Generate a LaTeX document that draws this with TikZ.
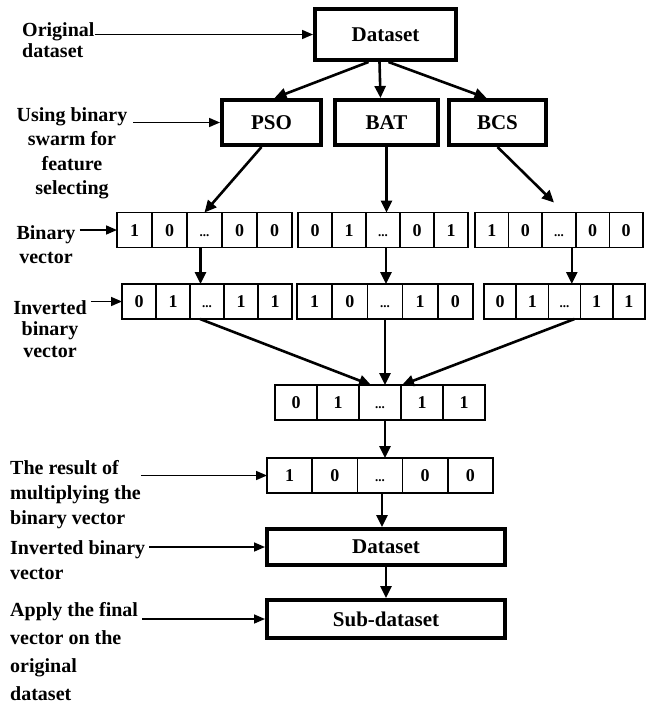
\documentclass[tikz,border=0pt]{standalone}
\usepackage{fontspec}
\setmainfont{Liberation Serif}
\usetikzlibrary{arrows.meta}

% one row of bits: name, left x, centre y, cell width, entries
\newcommand{\celldots}{{\fontsize{13}{13}\selectfont ...}}
\newcommand{\bitvec}[5]{%
  \foreach \v [count=\k] in {#5}
    \node[cell, minimum width=#4pt] (#1-\k) at ({#2+(\k-0.5)*#4},#3) {\v};}

\begin{document}
\begin{tikzpicture}[x=1pt,y=-1pt,
    bigbox/.style={draw,line width=4pt,inner sep=0pt,font=\fontsize{21}{24}\selectfont\bfseries},
    cell/.style={draw,line width=1.6pt,minimum height=35pt,inner sep=0pt,outer sep=0pt,
      text height=12.5pt,text depth=0pt,font=\fontsize{18}{20}\selectfont\bfseries},
    lbl/.style={inner sep=0pt,font=\fontsize{20}{#1}\selectfont\bfseries},
    lbl/.default=24.5pt,
    arr/.style={-{Triangle[length=12pt,width=11pt]},line width=2.6pt},
    tharr/.style={-{Triangle[length=11pt,width=9pt]},line width=1.6pt}]
        \useasboundingbox (0,0) rectangle (654,707);

        % boxes
        \node[bigbox,minimum width=141pt,minimum height=51pt] (ds) at (385.5,34.5) {Dataset};
        \node[bigbox,minimum width=99pt,minimum height=45pt] (pso) at (271.5,122.5) {PSO};
        \node[bigbox,minimum width=103pt,minimum height=45pt] (bat) at (386.5,122.5) {BAT};
        \node[bigbox,minimum width=97pt,minimum height=45pt] (bcs) at (497.5,122.5) {BCS};
        \node[bigbox,minimum width=238pt,minimum height=36pt] (ds2) at (386,547) {Dataset};
        \node[bigbox,minimum width=238pt,minimum height=38pt] (subds) at (386,619) {Sub-dataset};

        % bit vectors
        \bitvec{b1}{117}{230}{35}{1,0,\celldots,0,0}
        \bitvec{b2}{298}{230}{34}{0,1,\celldots,0,1}
        \bitvec{b3}{475}{230}{33.6}{1,0,\celldots,0,0}
        \bitvec{i1}{122}{301.5}{34}{0,1,\celldots,1,1}
        \bitvec{i2}{297}{301.5}{35.2}{1,0,\celldots,1,0}
        \bitvec{i3}{484}{301.5}{32.2}{0,1,\celldots,1,1}
        \bitvec{m}{275}{402.5}{42}{0,1,\celldots,1,1}
        \bitvec{r}{267}{475.5}{45.2}{1,0,\celldots,0,0}

        % labels on the left
        \node[lbl=21pt,align=left,anchor=north west] (lorig) at (22,22) {Original\\dataset};
        \node[lbl,align=center,anchor=north] (luse) at (72,107) {Using binary\\swarm for\\feature\\selecting};
        \node[lbl=24pt,align=center,anchor=north] (lbin) at (46,225) {Binary\\vector};
        \node[lbl=21.5pt,align=center,anchor=north] (linv) at (50,300) {Inverted\\binary\\vector};
        \node[lbl=25pt,align=left,anchor=north west] (lres) at (10,460) {The result of\\multiplying the\\binary vector};
        \node[lbl=25pt,align=left,anchor=north west] (linv2) at (10,540) {Inverted binary\\vector};
        \node[lbl=28pt,align=left,anchor=north west] (lapp) at (10,602) {Apply the final\\vector on the\\original\\dataset};

        % label arrows
        \draw[tharr] (lorig.east |- ds.west) -- (ds.west);
        \draw[tharr] ([xshift=6pt]luse.east |- pso.west) -- (pso.west);
        \draw[tharr] ([xshift=4pt]lbin.east |- b1-1.west) -- (b1-1.west);
        \draw[tharr] ([xshift=4pt]linv.east |- i1-1.west) -- (i1-1.west);
        \draw[tharr] (lres.east |- r-1.west) -- (r-1.west);
        \draw[tharr] ([xshift=4pt]linv2.north east |- ds2.west) -- (ds2.west);
        \draw[tharr] ([xshift=4pt]lapp.north east |- subds.west) -- (subds.west);

        % flow
        \draw[arr] ([xshift=-17pt]ds.south) -- ([xshift=3pt]pso.north);
        \draw[arr] ([xshift=-6pt]ds.south) -- ([xshift=-6pt]bat.north);
        \draw[arr] ([xshift=3pt]ds.south) -- ([xshift=-11pt]bcs.north);

        \draw[arr] ([xshift=-10pt]pso.south) -- (b1-3.north);
        \draw[arr] (bat.south) -- (bat.south |- b2-3.north);
        \draw[arr] (bcs.south) -- ([shift={(-5pt,10pt)}]b3-3.north);

        \draw[arr] ([xshift=-4pt]b1-3.south) -- ([xshift=-4pt]b1-3.south |- i1-3.north);
        \draw[arr] ([xshift=3pt]b2-3.south) -- ([xshift=3pt]b2-3.south |- i2-3.north);
        \draw[arr] ([xshift=-4pt]b3-3.south east) -- ([xshift=-4pt]b3-3.south east |- i3-3.north);

        \draw[arr] ([xshift=-7pt]i1-3.south) -- ([xshift=-9pt]m-3.north);
        \draw[arr] ([xshift=5pt]m-3.north |- i2-3.south) -- ([xshift=5pt]m-3.north);
        \draw[arr] ([xshift=10pt]i3-3.south) -- ([xshift=22pt]m-3.north);

        \draw[arr] ([xshift=5pt]m-3.south) -- ([xshift=5pt]m-3.south |- r-3.north);
        \draw[arr] ([xshift=2pt]r-3.south) -- ([xshift=2pt]r-3.south |- ds2.north);
        \draw[arr] (ds2.south) -- (subds.north);
    \end{tikzpicture}
\end{document}
